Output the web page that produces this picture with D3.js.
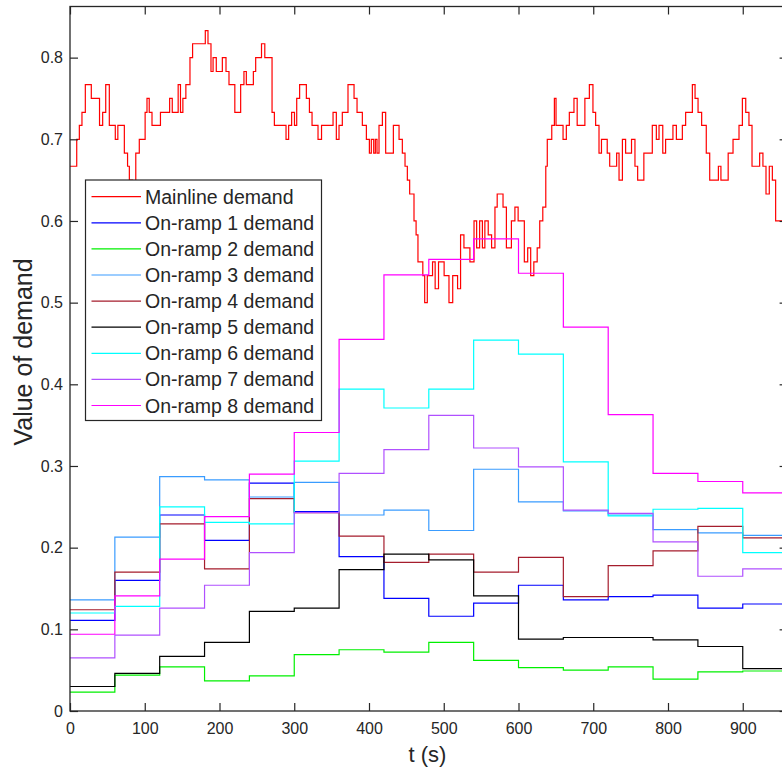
<!DOCTYPE html>
<html>
<head>
<meta charset="utf-8">
<script src="https://cdn.jsdelivr.net/npm/d3@7"></script>
<style>
  html, body { margin: 0; padding: 0; background: #fff; overflow: hidden; }
  text { font-family: "Liberation Sans", Arial, Helvetica, sans-serif; }
</style>
</head>
<body>
<svg id="chart" width="782" height="770"></svg>
<script>
// ---- data ----
const xTicks = [0, 100, 200, 300, 400, 500, 600, 700, 800, 900];
const yTicks = [0, 0.1, 0.2, 0.3, 0.4, 0.5, 0.6, 0.7, 0.8];
const tEnd = 960;

// on-ramp demands are piecewise constant over 60 s intervals
const rampTimes = [0, 60, 120, 180, 240, 300, 360, 420, 480, 540, 600, 660, 720, 780, 840, 900];

const seriesNames = [
  "Mainline demand", "On-ramp 1 demand", "On-ramp 2 demand", "On-ramp 3 demand",
  "On-ramp 4 demand", "On-ramp 5 demand", "On-ramp 6 demand", "On-ramp 7 demand",
  "On-ramp 8 demand"
];
const seriesColors = [
  "#ff0000", "#0000ff", "#00f000", "#3a9cff",
  "#a51d2d", "#000000", "#00ffff", "#b050ff", "#ff00ff"
];

// mainline demand: change times (s) and values
const mainlineTimes = [
  0, 9, 12.5, 16, 20.5, 28.5, 39.5, 43.7, 47.8, 52.6, 60.6, 64, 72.7, 77, 79.4, 83.8,
  88, 92.7, 100.5, 103, 106, 109.7, 121, 133.3, 136.8, 144.7, 147.8, 151, 155, 160.5,
  164, 181, 184.6, 188.6, 191.4, 195.7, 203.8, 208.7, 212.7, 220.5, 228.3, 232.7,
  235.9, 245.3, 248.4, 256.2, 260.6, 270.3, 273.4, 289, 292.5, 296.5, 300.3, 303.3,
  307.2, 316.2, 320.3, 323.8, 331.8, 336.5, 351.9, 356.3, 359.9, 364.3, 371.9, 380,
  384, 391.1, 396.5, 400.5, 403.1, 406.3, 408.5, 410.7, 413.4, 417.9, 422.3, 432.6,
  440.2, 444.6, 448.2, 451.3, 454.4, 460.2, 463, 465.5, 472, 474.5, 478, 485, 488.5,
  493, 500.5, 507, 512, 518.5, 522.5, 527, 535, 540.5, 544, 548, 551.7, 555, 559.5,
  564, 568.5, 571.5, 579.3, 583.8, 590.5, 595.2, 599.5, 607.8, 612.3, 616.3, 620.5,
  625, 628.4, 632.5, 636.5, 638.5, 644.5, 648, 650.2, 659.6, 664, 668, 674.2, 678.5,
  688.8, 694.8, 699.6, 703.2, 707.7, 711, 718.7, 722, 731.3, 734.5, 739, 743.3, 751.2,
  755.8, 759.4, 767.7, 779, 784.4, 788, 793, 796.8, 806.6, 811.2, 819.2, 823.6, 832.6,
  836.2, 840.2, 845, 851.2, 855.8, 867.4, 870.8, 880.5, 887, 895, 899.5, 904, 908.3,
  912.4, 922.6, 927, 931.1, 935.5, 939.6, 944
];
const mainlineDemand = [
  0.667, 0.700, 0.717, 0.733, 0.767, 0.750, 0.717, 0.733, 0.767, 0.717, 0.700, 0.717, 0.683, 0.667, 0.650, 0.633,
  0.683, 0.700, 0.733, 0.750, 0.733, 0.717, 0.733, 0.750, 0.733, 0.767, 0.733, 0.750, 0.767, 0.800,
  0.817, 0.833, 0.817, 0.783, 0.800, 0.783, 0.800, 0.783, 0.767, 0.733, 0.767, 0.783,
  0.767, 0.783, 0.800, 0.817, 0.800, 0.733, 0.717, 0.700, 0.717, 0.733, 0.717, 0.750,
  0.767, 0.750, 0.733, 0.717, 0.700, 0.717, 0.733, 0.700, 0.717, 0.733, 0.767, 0.750,
  0.733, 0.717, 0.700, 0.683, 0.700, 0.683, 0.700, 0.683, 0.717, 0.733, 0.683, 0.717,
  0.700, 0.683, 0.667, 0.650, 0.633, 0.600, 0.583, 0.550, 0.533, 0.500, 0.533, 0.550, 0.517,
  0.550, 0.533, 0.500, 0.533, 0.517, 0.583, 0.567, 0.550, 0.600, 0.567, 0.600, 0.567, 0.600, 0.583,
  0.567, 0.617, 0.633, 0.617, 0.567, 0.600, 0.617, 0.600, 0.550, 0.567, 0.533, 0.550,
  0.567, 0.600, 0.617, 0.667, 0.700, 0.717, 0.750, 0.717, 0.700, 0.717, 0.733, 0.750, 0.717,
  0.750, 0.767, 0.733, 0.717, 0.683, 0.700, 0.683, 0.667, 0.683, 0.650, 0.700, 0.683, 0.700,
  0.667, 0.650, 0.683, 0.717, 0.700, 0.717, 0.683, 0.700, 0.717, 0.700, 0.717, 0.733, 0.767,
  0.750, 0.733, 0.717, 0.683, 0.650, 0.667, 0.650, 0.683, 0.700, 0.717, 0.750, 0.733, 0.717,
  0.667, 0.683, 0.667, 0.633, 0.667, 0.650, 0.600
];

const ramp1Demand = [0.111, 0.160, 0.240, 0.209, 0.279, 0.244, 0.189, 0.138, 0.116, 0.132, 0.154, 0.136, 0.140, 0.142, 0.126, 0.131];
const ramp2Demand = [0.023, 0.044, 0.054, 0.037, 0.043, 0.069, 0.075, 0.072, 0.084, 0.062, 0.053, 0.050, 0.054, 0.039, 0.048, 0.049];
const ramp3Demand = [0.136, 0.213, 0.287, 0.283, 0.262, 0.280, 0.240, 0.246, 0.221, 0.296, 0.256, 0.245, 0.240, 0.222, 0.218, 0.215];
const ramp4Demand = [0.124, 0.170, 0.229, 0.174, 0.260, 0.243, 0.214, 0.182, 0.192, 0.170, 0.188, 0.140, 0.178, 0.196, 0.226, 0.212];
const ramp5Demand = [0.030, 0.046, 0.067, 0.084, 0.122, 0.126, 0.173, 0.192, 0.185, 0.141, 0.088, 0.090, 0.090, 0.087, 0.079, 0.052];
const ramp6Demand = [0.120, 0.128, 0.250, 0.231, 0.229, 0.306, 0.394, 0.371, 0.394, 0.454, 0.437, 0.305, 0.239, 0.247, 0.248, 0.194];
const ramp7Demand = [0.065, 0.093, 0.126, 0.154, 0.194, 0.243, 0.291, 0.320, 0.362, 0.322, 0.299, 0.246, 0.242, 0.207, 0.165, 0.174];
const ramp8Demand = [0.094, 0.141, 0.186, 0.238, 0.290, 0.341, 0.455, 0.534, 0.553, 0.578, 0.536, 0.470, 0.363, 0.291, 0.281, 0.267];

const rampDemands = [ramp1Demand, ramp2Demand, ramp3Demand, ramp4Demand,
                     ramp5Demand, ramp6Demand, ramp7Demand, ramp8Demand];

// ---- layout ----
const svg = d3.select("#chart");
const axisColor = "#262626";
const x = d3.scaleLinear().domain([0, tEnd]).range([70, 787.6]);
const y = d3.scaleLinear().domain([0, 0.8626]).range([711, 6.5]);

const stepLine = d3.line()
  .x(d => x(d[0]))
  .y(d => y(d[1]))
  .curve(d3.curveStepAfter);

function toPoints(times, values) {
  const pts = times.map((t, i) => [t, values[i]]);
  pts.push([tEnd, values[values.length - 1]]);
  return pts;
}

const plot = svg.append("g");

// mainline first, then the on-ramps in order
plot.append("path")
  .attr("d", stepLine(toPoints(mainlineTimes, mainlineDemand)))
  .attr("fill", "none")
  .attr("stroke", seriesColors[0])
  .attr("stroke-width", 1.2);

rampDemands.forEach((vals, i) => {
  plot.append("path")
    .attr("d", stepLine(toPoints(rampTimes, vals)))
    .attr("fill", "none")
    .attr("stroke", seriesColors[i + 1])
    .attr("stroke-width", 1.2);
});

// ---- axes (box with inward ticks on all sides) ----
function styleAxis(g) {
  g.select(".domain").remove();
  g.selectAll(".tick line").attr("stroke", axisColor).attr("stroke-width", 1.2);
  g.selectAll(".tick text")
    .attr("fill", axisColor)
    .style("font-family", '"Liberation Sans", Arial, Helvetica, sans-serif')
    .style("font-size", "16px");
}

svg.append("g")
  .attr("transform", "translate(0,711)")
  .call(d3.axisBottom(x).tickValues(xTicks).tickSize(-8).tickPadding(12).tickFormat(d3.format("d")))
  .call(styleAxis);

svg.append("g")
  .attr("transform", "translate(70,0)")
  .call(d3.axisLeft(y).tickValues(yTicks).tickSize(-8).tickPadding(7)
    .tickFormat(d => d === 0 ? "0" : d3.format(".1f")(d)))
  .call(styleAxis);

svg.append("g")
  .attr("transform", `translate(0,${y.range()[1]})`)
  .call(d3.axisTop(x).tickValues(xTicks).tickSize(-8).tickFormat(""))
  .call(styleAxis);

svg.append("g")
  .attr("transform", `translate(${x.range()[1]},0)`)
  .call(d3.axisRight(y).tickValues(yTicks).tickSize(-8).tickFormat(""))
  .call(styleAxis);

svg.append("rect")
  .attr("x", x.range()[0])
  .attr("y", y.range()[1])
  .attr("width", x.range()[1] - x.range()[0])
  .attr("height", y.range()[0] - y.range()[1])
  .attr("fill", "none")
  .attr("stroke", axisColor)
  .attr("stroke-width", 1.3);

// axis titles
svg.append("text")
  .attr("x", 427.5)
  .attr("y", 762)
  .attr("text-anchor", "middle")
  .attr("fill", axisColor)
  .style("font-size", "22px")
  .text("t (s)");

svg.append("text")
  .attr("transform", "translate(31.5,352) rotate(-90)")
  .attr("text-anchor", "middle")
  .attr("fill", axisColor)
  .style("font-size", "25px")
  .text("Value of demand");

// ---- legend ----
const legend = svg.append("g").attr("transform", "translate(85.5,180)");
legend.append("rect")
  .attr("width", 236)
  .attr("height", 240.5)
  .attr("fill", "#fff")
  .attr("stroke", axisColor)
  .attr("stroke-width", 1.2);

seriesNames.forEach((name, i) => {
  const cy = 16.7 + i * 26.1;
  legend.append("line")
    .attr("x1", 6).attr("x2", 55.5)
    .attr("y1", cy).attr("y2", cy)
    .attr("stroke", seriesColors[i])
    .attr("stroke-width", 1.2);
  legend.append("text")
    .attr("x", 59.5)
    .attr("y", cy)
    .attr("dy", "0.36em")
    .attr("fill", axisColor)
    .style("font-size", "19.5px")
    .text(name);
});
</script>
</body>
</html>
